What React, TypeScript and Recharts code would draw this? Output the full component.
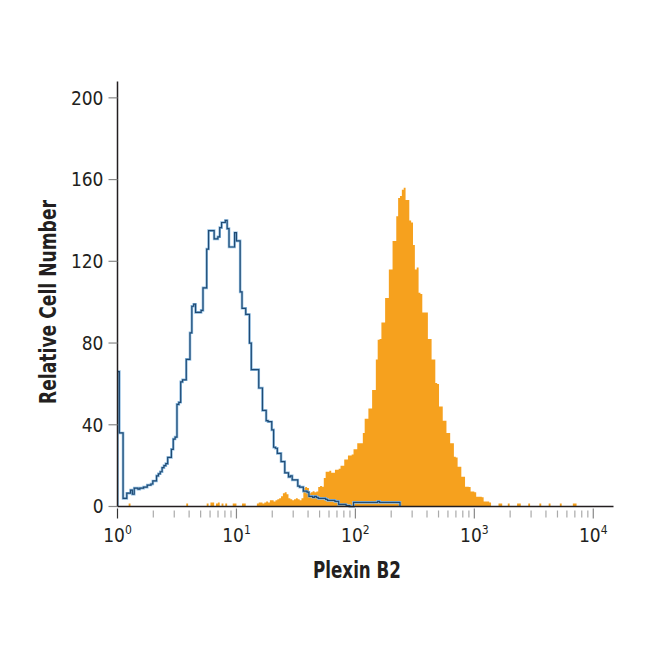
import React from 'react';
import { ComposedChart, Area, Line, XAxis, YAxis, Label } from 'recharts';

// Histogram channels: 64 channels per decade, channel i starts at 10^(i/64)
const CHANNELS_PER_DECADE = 64;

// Isotype control (blue outline)
const controlCounts: number[] = [
  66, 36, 36, 4, 4, 6.5, 6.5, 8, 6, 9,
  9, 8.5, 9, 9, 9.5, 9.5, 10.5, 10.5, 11, 12.5,
  12.5, 15, 16, 17, 19, 20, 21, 24, 24, 28,
  33, 34, 50, 51, 61, 62, 62, 72, 72, 85,
  98, 99, 95, 95, 95, 96, 107, 107, 126, 135,
  135, 135, 131, 131, 132, 136.5, 139, 139, 140, 136,
  127, 127, 127, 134, 130, 130, 105, 97, 97, 94,
  94, 80, 67, 67, 67, 67, 58, 58, 47, 47,
  42, 41.5, 41.5, 37.5, 29, 28.5, 26, 26, 22, 22,
  16.5, 16.5, 14.5, 15, 13, 13, 13, 10, 9.5, 9.5,
  7.5, 7.5, 7, 5, 5, 4.5, 5, 4.5, 4, 4,
  4, 4, 3.5, 3, 3, 3, 3, 2.5, 2.5, 1,
  1, 1, 1, 0.5, 0.5, 0, 0, 2, 2, 2,
  2, 2, 2, 2, 2, 2, 2, 2, 2, 2,
  2.5, 2, 2, 2, 2, 2, 2, 2, 2, 2,
  2, 2, 0,
];

// Plexin B2 stained (orange filled)
const stainedCounts: number[] = [
  0, 0, 0, 0, 0, 0, 1.5, 0, 0, 0,
  0, 0, 0, 0, 0, 0, 0, 0, 0, 0,
  0, 0, 0, 0, 0, 0, 0, 0, 0, 0,
  0, 0, 0, 0, 0, 0, 0, 1.5, 0, 0,
  0, 0, 0, 0, 0, 0, 0, 0, 1.5, 0,
  2, 2, 0, 1.5, 2, 0, 1.5, 0, 1.5, 0,
  0, 0, 1.5, 1.5, 0, 0, 0, 1.5, 1.5, 0,
  0, 0, 0, 0, 0, 1.5, 2, 2, 1.5, 2,
  2.5, 2, 3, 3, 2.5, 3, 3.5, 4, 5, 6.5,
  7, 6, 4, 3.5, 3, 3.5, 4, 3.5, 3, 4,
  9, 9.5, 9, 6.5, 7, 7.5, 7, 7.3, 9.5, 10,
  9.7, 14, 17, 17, 17.5, 16.5, 16.5, 18, 18, 18.5,
  20, 20, 23, 23, 25, 25, 25.5, 28, 28, 31,
  31, 31, 36, 43, 43, 48, 48, 57, 57, 72,
  81.6, 82, 90, 90, 102, 102, 116, 116, 130, 130,
  142, 151, 152, 155, 156, 150, 150, 140, 139, 128,
  116, 117, 104.6, 104, 95, 95, 95, 82, 82, 72,
  72, 60.5, 60, 49, 49, 42, 42, 36, 36, 31,
  31, 24.4, 24, 19.5, 19.5, 14.6, 14.6, 9.7, 9.7, 9.5,
  7.3, 7.3, 7, 4.8, 4.8, 4.8, 4.5, 2.4, 2.4, 2.4,
  2, 0, 0, 0, 0, 1.5, 1.5, 0, 0, 0,
  1.5, 0, 0, 0, 0, 1.5, 1.5, 0, 0, 0,
  0, 1.5, 0, 0, 0, 0, 0, 1.5, 0, 0,
  0, 0, 1.5, 0, 0, 0, 0, 0, 1.5, 0,
  0, 0, 0, 0, 0, 1.5, 1.5, 0, 0, 0,
  0, 0, 0, 0, 0, 0,
];

const majorDecades = [0, 1, 2, 3, 4];
const minorMultipliers = [2, 3, 4, 5, 6, 7, 8, 9];
const yTicks = [0, 40, 80, 120, 160, 200];

const xTicks: number[] = [];
majorDecades.forEach((d) => {
  xTicks.push(d);
  if (d < 4) minorMultipliers.forEach((m) => xTicks.push(d + Math.log10(m)));
});

const nRows = Math.max(controlCounts.length, stainedCounts.length);
const rows: any[] = [{ x: 0, control: 0, stained: 0 }];
for (let i = 0; i <= nRows; i++) {
  rows.push({
    x: i / CHANNELS_PER_DECADE,
    control: i < controlCounts.length ? controlCounts[i] : undefined,
    stained: i < stainedCounts.length ? stainedCounts[i] : 0,
  });
}

const FONT = "'Liberation Sans Narrow', 'DejaVu Sans Condensed', 'Roboto Condensed', sans-serif";
const TEXT = '#231f20';

const XTick = (props: any) => {
  const { x, y, payload } = props;
  const v = payload.value;
  const major = Math.abs(v - Math.round(v)) < 1e-6;
  if (major) {
    return (
      <g>
        <line x1={x} x2={x} y1={y + 2} y2={y + 12} stroke={v === 0 ? '#333' : '#888'} strokeWidth={1.2} />
        <text x={x} y={y + 35} textAnchor="middle" fill={TEXT} fontFamily={FONT} fontSize={19}>
          10
          <tspan dy={-8} fontSize={12}>{Math.round(v)}</tspan>
        </text>
      </g>
    );
  }
  return <line x1={x} x2={x} y1={y + 4} y2={y + 11} stroke="#aaa" strokeWidth={1.2} />;
};

const YLabel = () => (
  <text
    x={56}
    y={302}
    transform="rotate(-90, 56, 302)"
    textAnchor="middle"
    fill={TEXT}
    fontFamily={FONT}
    fontWeight="bold"
    fontSize={23}
    textLength={204}
    lengthAdjust="spacingAndGlyphs"
  >
    Relative Cell Number
  </text>
);

const XLabel = () => (
  <text
    x={357}
    y={578}
    textAnchor="middle"
    fill={TEXT}
    fontFamily={FONT}
    fontWeight="bold"
    fontSize={23}
    textLength={88}
    lengthAdjust="spacingAndGlyphs"
  >
    Plexin B2
  </text>
);

export default function App() {
  return (
    <div style={{ position: 'absolute', left: 0, top: 0, width: 650, height: 650, background: '#fff' }}>
      <ComposedChart
        width={650}
        height={650}
        data={rows}
        margin={{ top: 81.5, right: 36.5, bottom: 103.5, left: 57.5 }}
      >
        <XAxis
          type="number"
          dataKey="x"
          domain={[0, 4.17]}
          ticks={xTicks}
          interval={0}
          allowDataOverflow
          tickLine={false}
          tickSize={0}
          tickMargin={0}
          height={40}
          tick={<XTick />}
          axisLine={{ stroke: '#231f20', strokeWidth: 1.5 }}
        >
          <Label content={<XLabel />} />
        </XAxis>
        <YAxis
          type="number"
          domain={[0, 208]}
          ticks={yTicks}
          interval={0}
          width={60}
          tickSize={9}
          tickMargin={5}
          tickLine={{ stroke: '#888', strokeWidth: 1.2 }}
          axisLine={{ stroke: '#231f20', strokeWidth: 1.5 }}
          tick={{ fill: TEXT, fontFamily: FONT, fontSize: 19 }}
        >
          <Label content={<YLabel />} />
        </YAxis>
        <Area
          type="stepAfter"
          dataKey="stained"
          stroke="none"
          fill="#f6a11e"
          fillOpacity={1}
          isAnimationActive={false}
          dot={false}
          activeDot={false}
        />
        <Line
          type="stepAfter"
          dataKey="control"
          stroke="#8dbbe0"
          strokeWidth={2.6}
          dot={false}
          activeDot={false}
          isAnimationActive={false}
        />
        <Line
          type="stepAfter"
          dataKey="control"
          stroke="#1f4a73"
          strokeWidth={1.2}
          dot={false}
          activeDot={false}
          isAnimationActive={false}
        />
      </ComposedChart>
    </div>
  );
}
